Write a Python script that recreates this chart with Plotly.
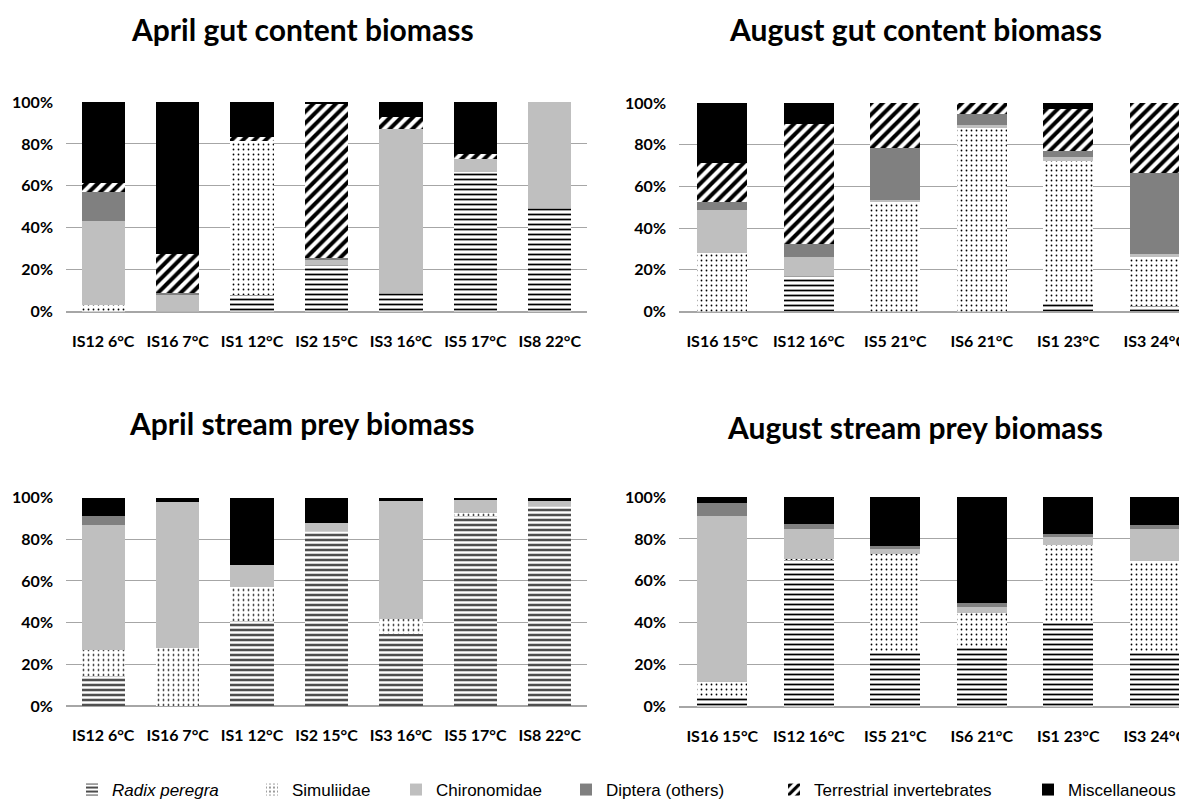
import plotly.graph_objects as go

W, H = 1187, 801
OFF = 8  # default body margin of the html page
FW, FH = W - OFF, H - OFF

groups = ["Radix peregra", "Simuliidae", "Chironomidae", "Diptera (others)",
          "Terrestrial invertebrates", "Miscellaneous"]

april_sites = ["IS12 6°C", "IS16 7°C", "IS1 12°C", "IS2 15°C", "IS3 16°C", "IS5 17°C", "IS8 22°C"]
august_sites = ["IS16 15°C", "IS12 16°C", "IS5 21°C", "IS6 21°C", "IS1 23°C", "IS3 24°C"]

# percent of biomass, one list per prey group (bottom to top)
april_gut_radix = [0, 0, 8, 22, 9, 66.5, 49.5]
april_gut_simul = [3, 0, 73.5, 0, 0, 0, 0]
april_gut_chiro = [40, 8, 0, 3, 78, 6.5, 50.5]
april_gut_dipt = [14, 1, 0, 0.5, 0, 0, 0]
april_gut_terr = [4.5, 18.5, 2, 74, 6, 2, 0]
april_gut_misc = [38.5, 72.5, 16.5, 0.5, 7, 25, 0]

august_gut_radix = [0, 17, 0, 0, 4, 2.5]
august_gut_simul = [28, 0, 52.5, 88, 68, 23.5]
august_gut_chiro = [20.5, 9, 1, 1.5, 2, 1.5]
august_gut_dipt = [4, 6.5, 25, 5, 3, 39]
august_gut_terr = [18.5, 57.5, 21.5, 5.5, 20, 33.5]
august_gut_misc = [29, 10, 0, 0, 3, 0]

april_stream_radix = [14.5, 0, 41, 84, 34.5, 91, 96]
april_stream_simul = [12.5, 28, 16, 0, 7, 1.5, 0]
april_stream_chiro = [60, 70, 10.5, 4, 57, 7, 2.5]
april_stream_dipt = [4, 0, 0, 0, 0, 0, 0]
april_stream_terr = [0, 0, 0, 0, 0, 0, 0]
april_stream_misc = [9, 2, 32.5, 12, 1.5, 0.5, 1.5]

august_stream_radix = [4.5, 70, 26, 29, 41, 26]
august_stream_simul = [7, 0.5, 47, 15.5, 36, 43.5]
august_stream_chiro = [79.5, 14, 2, 3, 4, 15]
august_stream_dipt = [6, 2.5, 1.5, 2, 1.5, 2]
august_stream_terr = [0, 0, 0, 0, 0, 0]
august_stream_misc = [3, 13, 23.5, 50.5, 17.5, 13.5]

panels = [
    ("April gut content biomass", april_sites,
     [april_gut_radix, april_gut_simul, april_gut_chiro, april_gut_dipt, april_gut_terr, april_gut_misc]),
    ("August gut content biomass", august_sites,
     [august_gut_radix, august_gut_simul, august_gut_chiro, august_gut_dipt, august_gut_terr, august_gut_misc]),
    ("April stream prey biomass", april_sites,
     [april_stream_radix, april_stream_simul, april_stream_chiro, april_stream_dipt, april_stream_terr, april_stream_misc]),
    ("August stream prey biomass", august_sites,
     [august_stream_radix, august_stream_simul, august_stream_chiro, august_stream_dipt, august_stream_terr, august_stream_misc]),
]


def px(x):
    return (x - OFF) / FW


def py(y):
    return 1 - (y - OFF) / FH


styles = [
    dict(color="white", pattern=dict(shape="-", fgcolor="black", bgcolor="white", fgopacity=1, size=5, solidity=0.35)),
    dict(color="white", pattern=dict(shape=".", fgcolor="black", bgcolor="white", fgopacity=1, size=5, solidity=0.1)),
    dict(color="#bfbfbf"),
    dict(color="#808080"),
    dict(color="white", pattern=dict(shape="/", fgcolor="black", bgcolor="white", fgopacity=1, size=8, solidity=0.5)),
    dict(color="black"),
]

# pixel layout of each panel: x left/right, y top(100%)/bottom(0%)
boxes = [
    (66, 587, 102, 311.5),
    (679, 1198, 103, 311.5),
    (66, 587, 497.5, 706),
    (679, 1198, 497, 706.5),
]
title_pos = [(302, 29), (915, 29), (302, 423), (915, 427)]
legend_x = [72, 252, 396, 566, 774, 1028]

fig = go.Figure()
tick_font = dict(family="Lato", size=16, color="black", weight="bold")

for i, (title, sites, vals) in enumerate(panels):
    sfx = "" if i == 0 else str(i + 1)
    x0, x1, yt, yb = boxes[i]
    n = len(sites)
    step = (x1 - x0) / n
    right = min(x1, W)
    rng_hi = n - 0.5 - (x1 - right) / step
    for g, name in enumerate(groups):
        label = "<i>Radix peregra</i>" if g == 0 else name
        fig.add_trace(go.Bar(
            x=sites, y=vals[g], name=label,
            xaxis="x" + sfx, yaxis="y" + sfx,
            marker=dict(line=dict(width=0), **styles[g]),
            showlegend=(i == 0),
            legend="legend" if g == 0 else "legend" + str(g + 1),
            legendgroup=name,
        ))
    fig.layout["xaxis" + sfx] = dict(
        domain=[px(x0), px(right)], anchor="y" + sfx, range=[-0.5, rng_hi],
        showgrid=False, showline=False, zeroline=False, ticks="",
        tickfont=tick_font, ticklabelstandoff=18, fixedrange=True,
    )
    fig.layout["yaxis" + sfx] = dict(
        domain=[py(yb), py(yt)], anchor="x" + sfx, range=[0, 100],
        tickvals=[0, 20, 40, 60, 80, 100], ticktext=["0%", "20%", "40%", "60%", "80%", "100%"],
        showgrid=True, gridcolor="#a6a6a6", gridwidth=1, zeroline=True, zerolinecolor="#a6a6a6",
        showline=False, ticks="", tickfont=tick_font, ticklabelstandoff=12, fixedrange=True,
    )
    tx, ty = title_pos[i]
    fig.add_annotation(text="<b>" + title + "</b>", x=px(tx), y=py(ty), xref="paper", yref="paper",
                       showarrow=False, xanchor="center", yanchor="middle",
                       font=dict(family="Lato", size=30, color="black"))

layout_legends = {}
for g in range(len(groups)):
    key = "legend" if g == 0 else "legend" + str(g + 1)
    layout_legends[key] = dict(
        x=px(legend_x[g]), y=py(790), xanchor="left", yanchor="middle",
        orientation="h", bgcolor="rgba(0,0,0,0)",
        font=dict(family="Liberation Sans", size=17, color="black"),
        itemwidth=30,
    )

fig.update_layout(
    width=FW, height=FH, margin=dict(l=0, r=0, t=0, b=0, autoexpand=False),
    barmode="stack", bargap=0.42,
    plot_bgcolor="white", paper_bgcolor="white",
    **layout_legends,
)

fig.write_html("out.html")
